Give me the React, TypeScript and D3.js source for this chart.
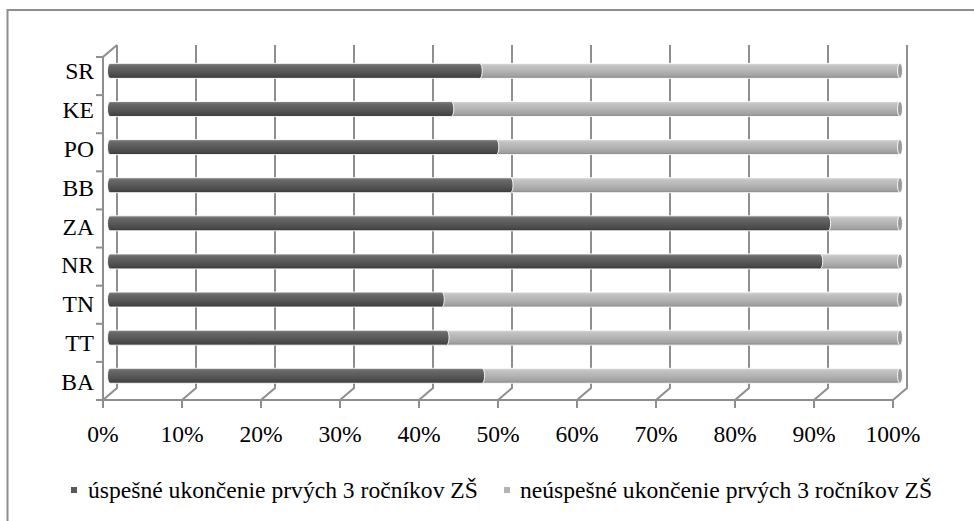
import React from "react";
import * as d3 from "d3";

// Categories listed bottom-to-top as in the source chart
const categories = ["BA", "TT", "TN", "NR", "ZA", "BB", "PO", "KE", "SR"];
const successful = [47.1, 42.6, 42.0, 89.9, 90.9, 50.7, 48.9, 43.2, 46.8];
const unsuccessful = [52.9, 57.4, 58.0, 10.1, 9.1, 49.3, 51.1, 56.8, 53.2];
const seriesNames = [
  "úspešné ukončenie prvých 3 ročníkov ZŠ",
  "neúspešné ukončenie prvých 3 ročníkov ZŠ",
];
const tickValues = [0, 10, 20, 30, 40, 50, 60, 70, 80, 90, 100];

const FONT = "'Liberation Serif', 'Times New Roman', serif";
const FS = 23.6;
const GRID = "#8e8e8e";

export default function App() {
  const W = 974;
  const H = 521;
  const frontLeft = 103;
  const frontRight = 893;
  const top = 57;
  const bottom = 400;
  const dx = 14;
  const dy = -12;

  const x = d3.scaleLinear().domain([0, 100]).range([frontLeft, frontRight]);
  const y = d3
    .scaleBand<string>()
    .domain([...categories].reverse())
    .range([top, bottom])
    .paddingInner(0)
    .paddingOuter(0);
  // label positions (slightly wider spread than the front edge, as in the source)
  const yLab = d3
    .scaleBand<string>()
    .domain([...categories].reverse())
    .range([51.5, 401.5]);

  const rows = categories.map((c, i) => {
    const total = successful[i] + unsuccessful[i];
    return { c, a: (successful[i] / total) * 100, b: (unsuccessful[i] / total) * 100 };
  });

  const barH = 15;
  const rx = 2.5;
  const ry = barH / 2;
  const midDx = 7;
  const midDy = -5.2;

  const segPath = (xa: number, xb: number, cy: number) => {
    const t = cy - ry;
    const b = cy + ry;
    return `M${xa},${t}L${xb},${t}A${rx},${ry} 0 0 1 ${xb},${b}L${xa},${b}A${rx},${ry} 0 0 1 ${xa},${t}Z`;
  };

  return (
    <svg
      width={W}
      height={H}
      style={{ position: "absolute", left: 0, top: 0, background: "#fff", fontFamily: FONT }}
    >
      <defs>
        <linearGradient id="gDark" x1="0" y1="0" x2="0" y2="1">
          <stop offset="0" stopColor="#8a8a8a" />
          <stop offset="0.18" stopColor="#686868" />
          <stop offset="0.5" stopColor="#5a5a5a" />
          <stop offset="0.85" stopColor="#474747" />
          <stop offset="1" stopColor="#373737" />
        </linearGradient>
        <linearGradient id="gLight" x1="0" y1="0" x2="0" y2="1">
          <stop offset="0" stopColor="#dadada" />
          <stop offset="0.18" stopColor="#c2c2c2" />
          <stop offset="0.5" stopColor="#b4b4b4" />
          <stop offset="0.85" stopColor="#a0a0a0" />
          <stop offset="1" stopColor="#868686" />
        </linearGradient>
      </defs>

      {/* outer chart border */}
      <rect x={7.5} y={10} width={1000} height={600} fill="none" stroke={GRID} strokeWidth={2} />

      {/* back-wall gridlines with floor diagonals */}
      {tickValues.map((t) => (
        <path
          key={"g" + t}
          d={`M${x(t)},${bottom}L${x(t) + dx},${bottom + dy}L${x(t) + dx},${top + dy}`}
          fill="none"
          stroke={GRID}
          strokeWidth={2}
        />
      ))}

      {/* left wall front edge and top diagonal */}
      <path
        d={`M${frontLeft},${bottom}L${frontLeft},${top}L${frontLeft + dx},${top + dy}`}
        fill="none"
        stroke={GRID}
        strokeWidth={2}
      />
      {/* floor front edge */}
      <line x1={frontLeft} x2={frontRight} y1={bottom} y2={bottom} stroke={GRID} strokeWidth={2} />

      {/* category ticks */}
      {[...y.domain().map((c) => y(c)!), bottom].map((v, i) => (
        <line key={"ct" + i} x1={96} x2={frontLeft} y1={v} y2={v} stroke={GRID} strokeWidth={2} />
      ))}
      {/* value ticks */}
      {tickValues.map((t) => (
        <line key={"vt" + t} x1={x(t)} x2={x(t)} y1={bottom} y2={bottom + 8} stroke={GRID} strokeWidth={2} />
      ))}

      {/* bars */}
      {rows.map((r) => {
        const cy = y(r.c)! + y.bandwidth() / 2 + midDy;
        const x0 = x(0) + midDx;
        const x1 = x(r.a) + midDx;
        const x2 = x(r.a + r.b) + midDx;
        return (
          <g key={r.c}>
            <path d={segPath(x1, x2, cy)} fill="url(#gLight)" stroke="#fff" strokeWidth={0.9} />
            <ellipse cx={x2} cy={cy} rx={rx} ry={ry} fill="#9a9a9a" stroke="#fff" strokeWidth={0.9} />
            <path d={segPath(x0, x1, cy)} fill="url(#gDark)" stroke="#fff" strokeWidth={0.9} />
          </g>
        );
      })}

      {/* category labels */}
      {categories.map((c) => (
        <text key={"cl" + c} x={94} y={yLab(c)! + yLab.bandwidth() / 2 + 8} textAnchor="end" fontSize={FS} fill="#000">
          {c}
        </text>
      ))}

      {/* value labels */}
      {tickValues.map((t) => (
        <text key={"vl" + t} x={x(t)} y={441.5} textAnchor="middle" fontSize={FS} fill="#000">
          {t + "%"}
        </text>
      ))}

      {/* legend */}
      <rect x={71} y={487} width={6} height={6} fill="#595959" />
      <text x={88} y={497.5} fontSize={FS} fill="#000">
        {seriesNames[0]}
      </text>
      <rect x={504} y={487} width={6} height={6} fill="#b3b3b3" />
      <text x={520} y={497.5} fontSize={FS} fill="#000">
        {seriesNames[1]}
      </text>
    </svg>
  );
}
